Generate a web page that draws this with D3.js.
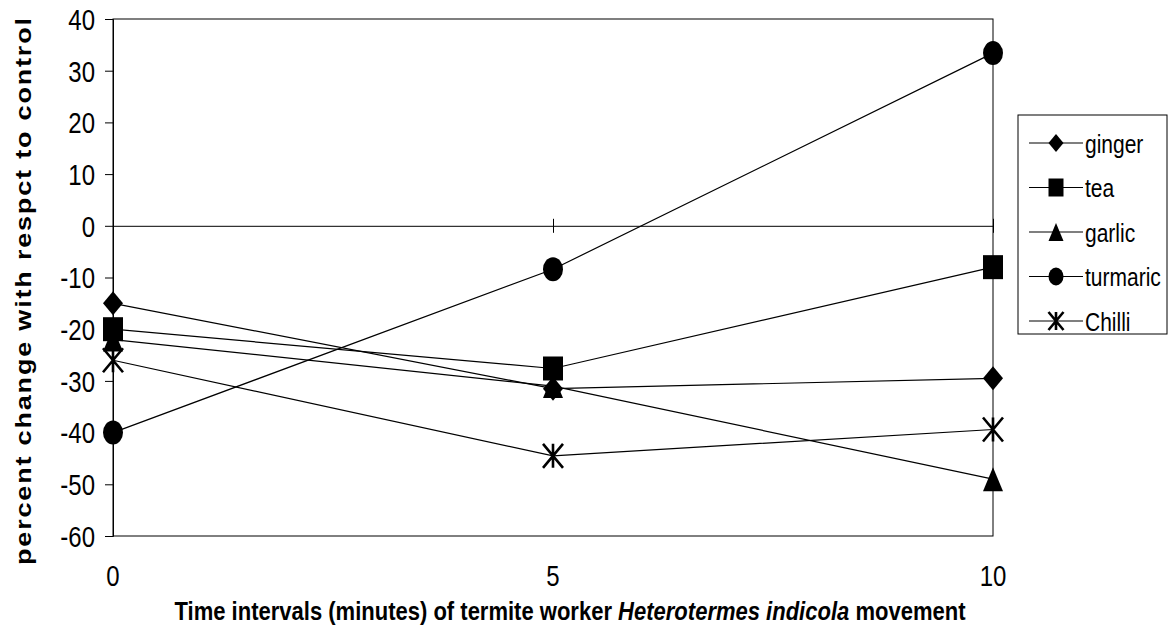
<!DOCTYPE html>
<html>
<head>
<meta charset="utf-8">
<script src="https://cdn.jsdelivr.net/npm/d3@7"></script>
<style>
  html, body { margin: 0; padding: 0; background: #fff; }
  svg { display: block; }
  text { font-family: "Liberation Sans", Arial, sans-serif; fill: #000; }
</style>
</head>
<body>
<svg id="chart" width="1169" height="631"></svg>
<script>
// ---- data ----
const timePoints = [0, 5, 10];
const seriesNames = ["ginger", "tea", "garlic", "turmaric", "Chilli"];
const ginger   = [-15, -31.5, -29.5];
const tea      = [-20, -27.6, -8];
const garlic   = [-22, -31, -49];
const turmaric = [-40, -8.4, 33.4];
const chilli   = [-26, -44.5, -39.4];
const yTicks = [40, 30, 20, 10, 0, -10, -20, -30, -40, -50, -60];
const xTicks = [0, 5, 10];
const markerTypes = ["diamond", "square", "triangle", "circle", "asterisk"];

const seriesValues = [ginger, tea, garlic, turmaric, chilli];

// ---- layout ----
const svg = d3.select("#chart");
const x = d3.scaleLinear().domain([0, 10]).range([113, 993]);
const y = d3.scaleLinear().domain([-60, 40]).range([536, 19]);
const SY = 1.2; // vertical stretch of the original picture

function markerPath(type, w, h) {
  const a = w / 2, b = h / 2;
  switch (type) {
    case "diamond": return `M0,${-b}L${a},0L0,${b}L${-a},0Z`;
    case "square": return `M${-a},${-b}H${a}V${b}H${-a}Z`;
    case "triangle": return `M0,${-b}L${a},${b}L${-a},${b}Z`;
    case "circle": return `M${-a},0A${a},${b} 0 1,0 ${a},0A${a},${b} 0 1,0 ${-a},0Z`;
    case "asterisk": return `M${-a},${-b}L${a},${b}M${a},${-b}L${-a},${b}M0,${-b}L0,${b}`;
  }
}
function drawMarker(g, type, w, h) {
  const p = g.append("path").attr("d", markerPath(type, w, h));
  if (type === "asterisk") p.attr("fill", "none").attr("stroke", "#000").attr("stroke-width", 2.6);
  else p.attr("fill", "#000");
}

// plot area border
svg.append("rect")
  .attr("x", x(0)).attr("y", y(40))
  .attr("width", x(10) - x(0)).attr("height", y(-60) - y(40))
  .attr("fill", "none").attr("stroke", "#000").attr("stroke-width", 1);

// y axis
const yAxis = d3.axisLeft(y).tickValues(yTicks).tickSize(8).tickFormat(d3.format("d"));
const gy = svg.append("g").attr("transform", `translate(${x(0)},0)`).call(yAxis);
gy.select(".domain").attr("stroke", "#000");
gy.selectAll(".tick line").attr("stroke", "#000");
gy.selectAll(".tick text").remove();
gy.selectAll(".tick").append("text")
  .attr("transform", `translate(-18,0) scale(1,${SY})`)
  .attr("text-anchor", "end")
  .attr("dy", "0.36em")
  .style("font-size", "24px")
  .text(d => d);

// x axis line at y=0 with crossing ticks
const xAxis = d3.axisBottom(x).tickValues(xTicks).tickSize(0).tickFormat("");
const gx = svg.append("g").attr("transform", `translate(0,${y(0)})`).call(xAxis);
gx.select(".domain").attr("stroke", "#000");
gx.selectAll(".tick").append("line")
  .attr("y1", -7).attr("y2", 7).attr("stroke", "#000");

// x tick labels at the bottom
svg.append("g").selectAll("text").data(xTicks).join("text")
  .attr("transform", d => `translate(${x(d)},${y(-60) + 40}) scale(1,${SY})`)
  .attr("text-anchor", "middle")
  .attr("dy", "0.36em")
  .style("font-size", "24px")
  .text(d => d);

// series lines
const line = d3.line().x((d, i) => x(timePoints[i])).y(d => y(d));
seriesValues.forEach((vals) => {
  svg.append("path").attr("d", line(vals))
    .attr("fill", "none").attr("stroke", "#000").attr("stroke-width", 1.2);
});
// markers
seriesValues.forEach((vals, si) => {
  vals.forEach((v, i) => {
    const g = svg.append("g").attr("transform", `translate(${x(timePoints[i])},${y(v)})`);
    drawMarker(g, markerTypes[si], 20, 24);
  });
});

// legend
const lg = svg.append("g");
lg.append("rect").attr("x", 1018).attr("y", 115).attr("width", 149).attr("height", 219)
  .attr("fill", "#fff").attr("stroke", "#000").attr("stroke-width", 1);
seriesNames.forEach((name, i) => {
  const cy = 143 + i * 44.5;
  lg.append("line").attr("x1", 1029).attr("x2", 1083).attr("y1", cy).attr("y2", cy)
    .attr("stroke", "#000").attr("stroke-width", 1.2);
  const g = lg.append("g").attr("transform", `translate(1056,${cy})`);
  drawMarker(g, markerTypes[i], 15, 18);
  lg.append("text")
    .attr("transform", `translate(1085,${cy}) scale(1,1.26)`)
    .attr("dy", "0.36em")
    .style("font-size", "21px")
    .text(name);
});

// y axis title
svg.append("text")
  .attr("transform", `translate(31,${(18 + 565) / 2}) rotate(-90) scale(${SY},1)`)
  .attr("text-anchor", "middle")
  .style("font-size", "22.5px").style("font-weight", "bold")
  .attr("textLength", 547 / SY).attr("lengthAdjust", "spacing")
  .text("percent change with respct to control");

// x axis title
const xt = svg.append("text")
  .attr("transform", `translate(570,620) scale(1,1.25)`)
  .attr("text-anchor", "middle")
  .attr("textLength", 791).attr("lengthAdjust", "spacingAndGlyphs")
  .style("font-size", "20px").style("font-weight", "bold");
xt.append("tspan").text("Time intervals (minutes) of termite worker ");
xt.append("tspan").style("font-style", "italic").text("Heterotermes indicola");
xt.append("tspan").text(" movement");
</script>
</body>
</html>
